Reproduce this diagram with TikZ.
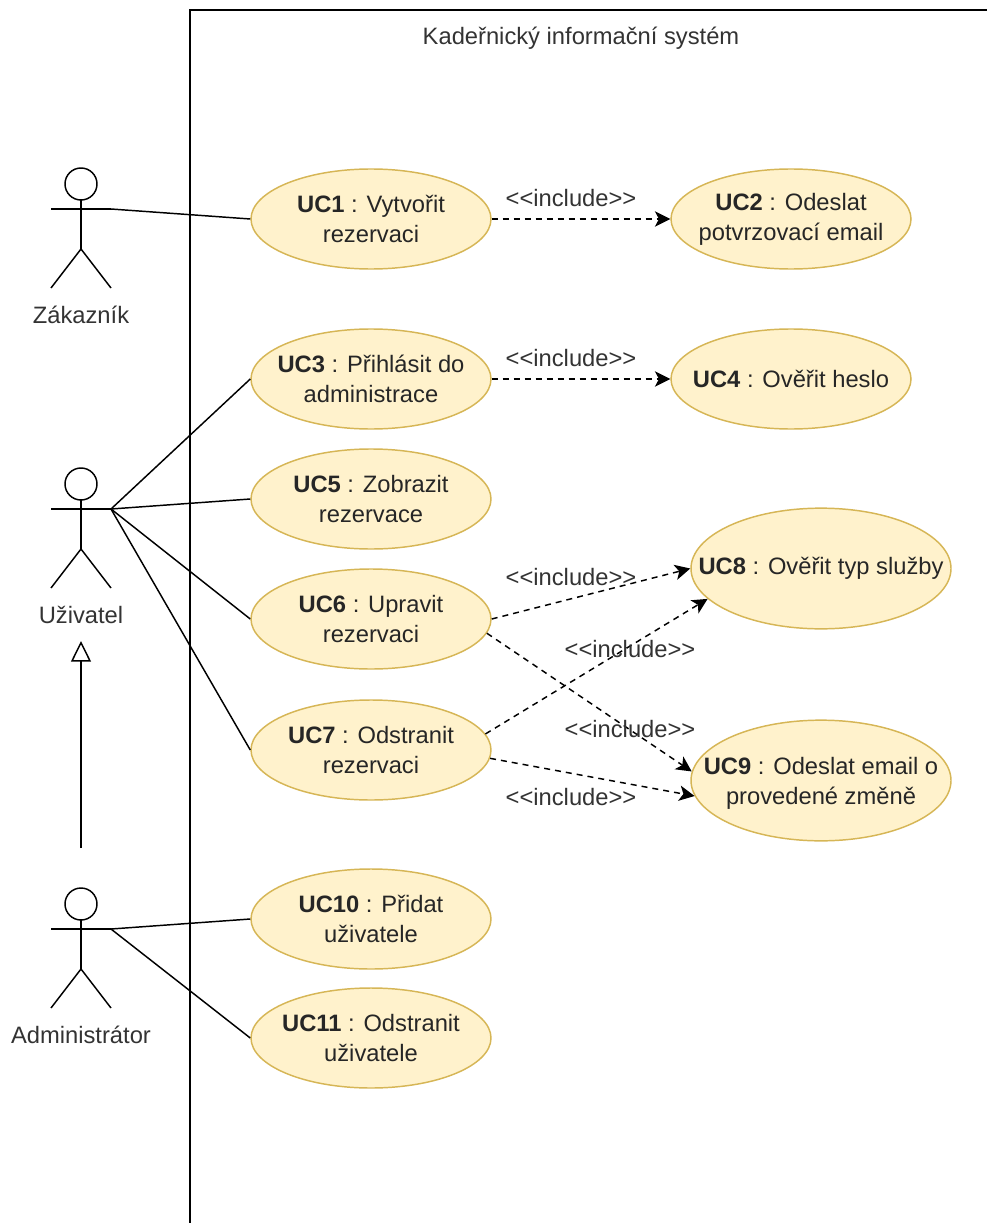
\documentclass[tikz,border=0pt]{standalone}
\usepackage{fontspec}
\setmainfont[Ligatures=NoCommon]{Liberation Sans}
\usetikzlibrary{arrows.meta,shapes.geometric}
\definecolor{ucfill}{HTML}{FFF2CC}
\definecolor{ucline}{HTML}{D6B656}
\newcommand{\inc}{{<}{<}include{>}{>}}
\tikzset{
  px/.style={x=0.75pt,y=-0.75pt},
  usecase/.style={ellipse,draw=ucline,fill=ucfill,line width=1.1pt,minimum width=180pt,minimum height=75pt,inner sep=0pt},
  bigcase/.style={usecase,minimum width=195pt,minimum height=90.5pt},
  uctext/.style={align=center,font=\fontsize{17.8}{22.5}\selectfont,text=black!85,inner sep=0pt},
  actorline/.style={line width=1.1pt,black},
  assoc/.style={line width=1.1pt,black},
  incl/.style={line width=1.1pt,black,dash pattern=on 4.5pt off 3.75pt,-{Stealth[length=11.5pt,width=11.5pt,inset=3pt]}},
  lbl/.style={font=\fontsize{17.8}{21.8}\selectfont,text=black!80,inner sep=0pt},
}
\begin{document}
\begin{tikzpicture}[px]
\useasboundingbox (0,0) rectangle (987,1223);
\draw[line width=1.1pt] (190,1223) -- (190,10) -- (987,10);
\node[lbl] (title) at (581,38) {Kadeřnický informační systém};
% use cases
\node[usecase,label={[uctext]center:{\textbf{UC1} : Vytvořit\\rezervaci}}] (uc1) at (371,219) {};
\node[usecase,label={[uctext]center:{\textbf{UC2} : Odeslat\\potvrzovací email}}] (uc2) at (791,219) {};
\node[usecase,label={[uctext]center:{\textbf{UC3} : Přihlásit do\\administrace}}] (uc3) at (371,379) {};
\node[usecase,label={[uctext]center:{\textbf{UC4} : Ověřit heslo}}] (uc4) at (791,379) {};
\node[usecase,label={[uctext]center:{\textbf{UC5} : Zobrazit\\rezervace}}] (uc5) at (371,499) {};
\node[usecase,label={[uctext]center:{\textbf{UC6} : Upravit\\rezervaci}}] (uc6) at (371,619) {};
\node[usecase,label={[uctext]center:{\textbf{UC7} : Odstranit\\rezervaci}}] (uc7) at (371,750) {};
\node[bigcase,label={[uctext]center:{\textbf{UC8} : Ověřit typ služby}}] (uc8) at (821,568.5) {};
\node[bigcase,label={[uctext,yshift=-2.5pt]center:{\textbf{UC9} : Odeslat email o\\provedené změně}}] (uc9) at (821,780.5) {};
\node[usecase,label={[uctext]center:{\textbf{UC10} : Přidat\\uživatele}}] (uc10) at (371,919) {};
\node[usecase,label={[uctext]center:{\textbf{UC11} : Odstranit\\uživatele}}] (uc11) at (371,1038) {};
% actors
\foreach \n/\cy/\t in {a/184/Zákazník,b/484/Uživatel,c/904/Administrátor}{
  \draw[actorline] (81,\cy) circle (16);
  \draw[actorline] (81,\cy+16) -- (81,\cy+65) (51,\cy+25) -- (111,\cy+25);
  \draw[actorline] (51,\cy+104) -- (81,\cy+65) -- (111,\cy+104);
  \coordinate (\n hand) at (111,\cy+25);
  \node[lbl] (\n label) at (81,\cy+131) {\t};
}
% associations
\draw[assoc] (ahand) -- (uc1.west);
\draw[assoc] (bhand) -- (uc3.west);
\draw[assoc] (bhand) -- (uc5.west);
\draw[assoc] (bhand) -- (uc6.west);
\draw[assoc] (bhand) -- (uc7.west);
\draw[assoc] (chand) -- (uc10.west);
\draw[assoc] (chand) -- (uc11.west);
% generalisation
\coordinate (gs) at (81,848);
\coordinate (ge) at (81,641);
\draw[line width=1.1pt,-{Triangle[open,length=15.5pt,width=15pt]}] (gs) -- (ge);
% includes
\draw[incl] (uc1.east) -- (uc2.west);
\draw[incl] (uc3.east) -- (uc4.west);
\draw[incl] (uc6.east) -- (uc8.west);
\draw[incl] (uc6.-7) -- (uc9.176.3);
\draw[incl] (uc7.8) -- (uc8.195.5);
\draw[incl] (uc7.-4) -- (uc9.187.5);
\node[lbl] (i1) at (571,198) {\inc};
\node[lbl] (i2) at (571,358) {\inc};
\node[lbl] (i3) at (571,577) {\inc};
\node[lbl] (i4) at (630,649) {\inc};
\node[lbl] (i5) at (630,729) {\inc};
\node[lbl] (i6) at (571,797) {\inc};
\end{tikzpicture}
\end{document}
